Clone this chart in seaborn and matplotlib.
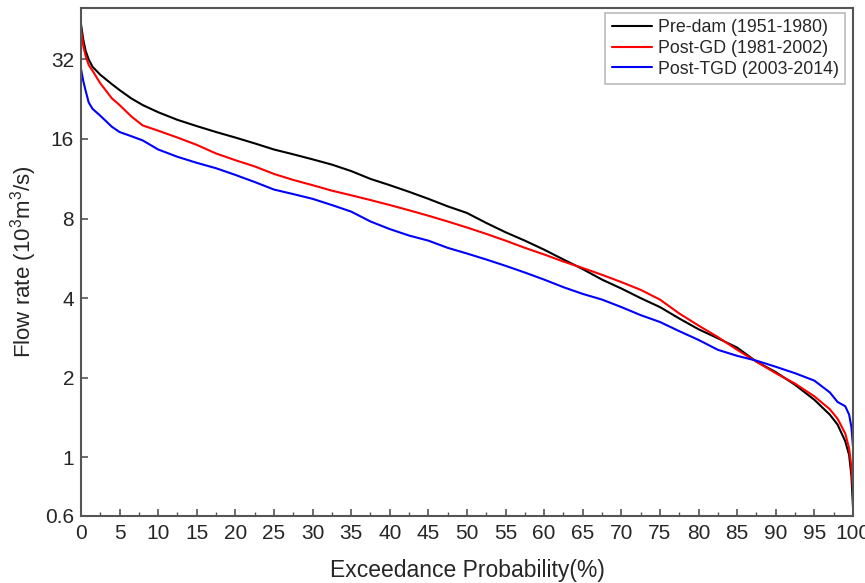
import numpy as np
import pandas as pd
import matplotlib
matplotlib.use("Agg")
import matplotlib.pyplot as plt
from matplotlib.ticker import MultipleLocator, NullLocator
import seaborn as sns

# exceedance probability grid (%)
exceedance = [0, 0.3, 0.6, 1, 1.5, 2.5, 4, 5, 6.5, 8, 10, 12.5, 15, 17.5, 20, 22.5,
              25, 27.5, 30, 32.5, 35, 37.5, 40, 42.5, 45, 47.5, 50, 52.5, 55, 57.5,
              60, 62.5, 65, 67.5, 70, 72.5, 75, 77.5, 80, 82.5, 85, 87.5, 90, 92.5,
              95, 97, 98, 99, 99.5, 99.8, 100]

# flow rate (10^3 m^3/s)
pre_dam = [43.5, 38, 34.5, 32, 30, 28, 25.8, 24.5, 22.8, 21.5, 20.2, 18.9, 17.9, 17.0,
           16.2, 15.4, 14.6, 14.0, 13.4, 12.8, 12.1, 11.3, 10.7, 10.1, 9.5, 8.9, 8.4,
           7.7, 7.1, 6.6, 6.1, 5.6, 5.15, 4.7, 4.35, 4.0, 3.7, 3.35, 3.05, 2.82, 2.6,
           2.3, 2.1, 1.88, 1.65, 1.45, 1.33, 1.15, 1.02, 0.85, 0.65]
post_gd = [42, 36, 33, 30.5, 29, 26, 22.8, 21.5, 19.5, 18, 17.2, 16.2, 15.2, 14.1,
           13.3, 12.6, 11.8, 11.2, 10.7, 10.2, 9.8, 9.4, 9.0, 8.6, 8.2, 7.8, 7.4,
           7.0, 6.6, 6.2, 5.85, 5.5, 5.2, 4.9, 4.6, 4.3, 3.95, 3.5, 3.15, 2.85, 2.55,
           2.3, 2.08, 1.9, 1.7, 1.52, 1.40, 1.23, 1.08, 0.92, 0.75]
post_tgd = [29.5, 26.5, 24.4, 22, 20.8, 19.6, 17.8, 17.0, 16.4, 15.8, 14.6, 13.7, 13.0,
            12.4, 11.7, 11.0, 10.3, 9.9, 9.5, 9.0, 8.5, 7.8, 7.3, 6.9, 6.6, 6.2, 5.9,
            5.6, 5.3, 5.0, 4.7, 4.4, 4.15, 3.95, 3.7, 3.45, 3.25, 3.0, 2.78, 2.55,
            2.42, 2.32, 2.2, 2.08, 1.95, 1.76, 1.62, 1.56, 1.45, 1.3, 1.1]

labels = ["Pre-dam (1951-1980)", "Post-GD (1981-2002)", "Post-TGD (2003-2014)"]
colors = ["black", "#ff0000", "#0000ff"]

y_ticks = [0.6, 1, 2, 4, 8, 16, 32]
y_ticklabels = ["0.6", "1", "2", "4", "8", "16", "32"]

df = pd.concat([
    pd.DataFrame({"p": exceedance, "q": vals, "period": lab})
    for vals, lab in zip([pre_dam, post_gd, post_tgd], labels)
])

sns.set_style("ticks")
plt.rcParams["font.family"] = ["Liberation Sans", "DejaVu Sans"]
plt.rcParams["mathtext.fontset"] = "custom"
plt.rcParams["mathtext.rm"] = "Liberation Sans"

fig = plt.figure(figsize=(8.65, 5.83), dpi=100)
ax = fig.add_axes([0.0936, 0.115, 0.8925, 0.871])

sns.lineplot(data=df, x="p", y="q", hue="period", palette=colors,
             linewidth=1.5, ax=ax, sort=False, estimator=None)

ax.set_yscale("log", base=2)
ax.set_ylim(0.6, 50)
ax.set_yticks(y_ticks)
ax.set_yticklabels(y_ticklabels)
ax.yaxis.set_minor_locator(NullLocator())

ax.set_xlim(0, 100)
ax.xaxis.set_major_locator(MultipleLocator(5))
ax.xaxis.set_minor_locator(MultipleLocator(2.5))

ax.tick_params(axis="both", which="major", direction="in", length=5, width=1.2,
               color="#555555", labelsize=15)
ax.tick_params(axis="x", which="minor", direction="in", length=3, width=1.0,
               color="#555555")
ax.tick_params(axis="x", which="major", pad=6)
ax.tick_params(axis="y", which="major", pad=5)

for sp in ax.spines.values():
    sp.set_color("#555555")
    sp.set_linewidth(1.5)

ax.set_xlabel("Exceedance Probability(%)", fontsize=16.5, labelpad=11)
ax.set_ylabel("Flow rate (10$^3$m$^3$/s)", fontsize=16, labelpad=4)

leg = ax.legend(loc="upper right", fontsize=12.8, frameon=True, fancybox=False,
                handlelength=2.3, handletextpad=0.3, borderpad=0.35,
                labelspacing=0.2, borderaxespad=0,
                bbox_to_anchor=(0.9896, 0.990))
leg.get_frame().set_edgecolor("#aaaaaa")
leg.get_frame().set_linewidth(1.2)
leg.set_title(None)

fig.savefig("out.png", dpi=100)
